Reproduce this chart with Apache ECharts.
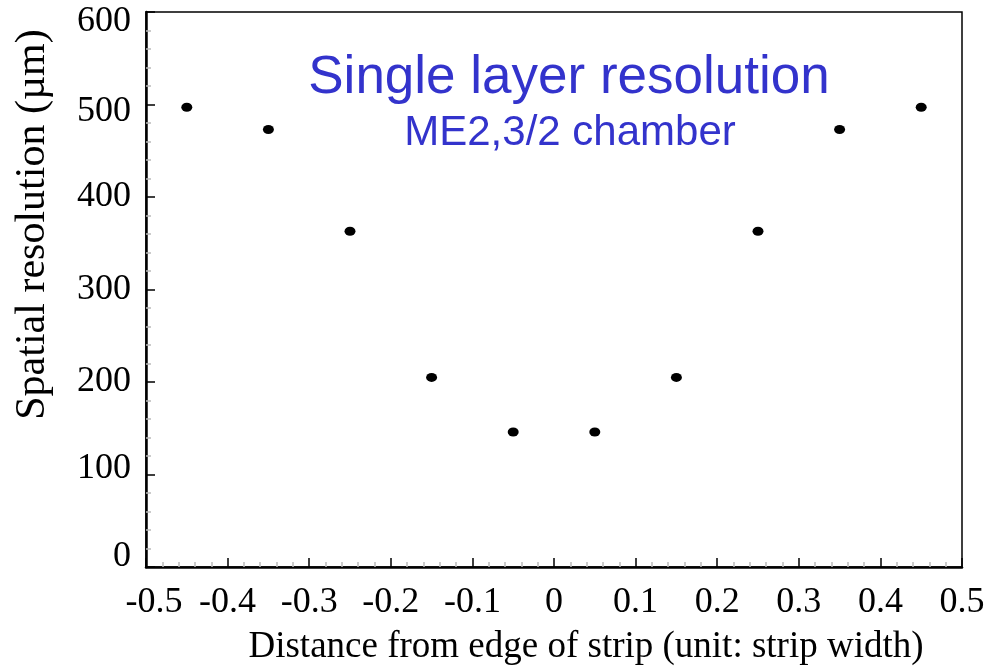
<!DOCTYPE html>
<html><head><meta charset="utf-8">
<script src="https://cdn.jsdelivr.net/npm/echarts@6/dist/echarts.min.js"></script>
<style>html,body{margin:0;padding:0;background:#fff}#c{width:992px;height:666px}</style>
</head><body><div id="c"></div>
<script>
const xValues = [-0.45, -0.35, -0.25, -0.15, -0.05, 0.05, 0.15, 0.25, 0.35, 0.45];
const resolution = [497, 473, 363, 205, 146, 146, 205, 363, 473, 497];
const titleText = 'Single layer resolution';
const subtitleText = 'ME2,3/2 chamber';
const xName = 'Distance from edge of strip (unit: strip width)';
const yName = 'Spatial resolution (\u00b5m)';

const chart = echarts.init(document.getElementById('c'), null, {renderer: 'canvas'});
const serif = '"Liberation Serif", "Times New Roman", serif';
chart.setOption({
  animation: false,
  backgroundColor: '#fff',
  grid: {left: 146, right: 30, top: 12, bottom: 99, containLabel: false, outerBoundsMode: 'none',
    show: true, borderColor: '#000', borderWidth: 1.5},
  xAxis: {
    type: 'value', min: -0.5, max: 0.5, interval: 0.1,
    name: xName, nameLocation: 'middle', nameGap: 62,
    nameTextStyle: {fontFamily: serif, fontSize: 37, color: '#000', padding: [0, 0, 0, 64]},
    axisLine: {show: true, onZero: false, lineStyle: {color: '#000', width: 2.5}},
    axisTick: {show: true, inside: true, length: 9, lineStyle: {color: '#000', width: 1.5}},
    minorTick: {show: true, splitNumber: 5, length: 5, lineStyle: {color: '#bbb', width: 1.5}},
    splitLine: {show: false},
    axisLabel: {fontFamily: serif, fontSize: 36, color: '#000', margin: 18,
      formatter: v => {
        const s = (Math.round(v * 10) / 10).toString();
        return v <= -0.5 ? '{first|' + s + '}' : s;
      },
      rich: {first: {fontFamily: serif, fontSize: 36, color: '#000', padding: [0, 0, 0, 16]}}
    }
  },
  yAxis: {
    type: 'value', min: 0, max: 600, interval: 100,
    name: yName, nameLocation: 'middle', nameGap: 92,
    nameTextStyle: {fontFamily: serif, fontSize: 42, color: '#000', padding: [0, 0, 0, 130]},
    axisLine: {show: true, onZero: false, lineStyle: {color: '#000', width: 2.5}},
    axisTick: {show: true, inside: true, length: 9, lineStyle: {color: '#000', width: 1.5}},
    minorTick: {show: true, splitNumber: 5, length: 5, lineStyle: {color: '#bbb', width: 1.5}},
    splitLine: {show: false},
    axisLabel: {fontFamily: serif, fontSize: 36, color: '#000', margin: 15,
      formatter: v => {
        if (v >= 600) return '{top|' + v + '}';
        if (v >= 500) return '{hi|' + v + '}';
        if (v === 100) return '{lo|' + v + '}';
        if (v === 0) return '{bot|' + v + '}';
        return String(v);
      },
      rich: {
        top: {fontFamily: serif, fontSize: 36, color: '#000', padding: [20, 0, 0, 0]},
        hi: {fontFamily: serif, fontSize: 36, color: '#000', padding: [14, 0, 0, 0]},
        lo: {fontFamily: serif, fontSize: 36, color: '#000', padding: [0, 0, 12, 0]},
        bot: {fontFamily: serif, fontSize: 36, color: '#000', padding: [0, 0, 20, 0]}
      }
    }
  },
  graphic: [
    {type: 'text', x: 569, y: 78, style: {text: titleText, align: 'center', verticalAlign: 'middle', font: '53px "Liberation Sans", Arial, sans-serif', fill: '#3333cc'}},
    {type: 'text', x: 570, y: 133, style: {text: subtitleText, align: 'center', verticalAlign: 'middle', font: '42px "Liberation Sans", Arial, sans-serif', fill: '#3333cc'}}
  ],
  series: [{
    type: 'scatter',
    data: xValues.map((x, i) => [x, resolution[i]]),
    symbol: 'circle', symbolSize: [11, 9],
    itemStyle: {color: '#000', opacity: 1}
  }]
});
</script></body></html>
